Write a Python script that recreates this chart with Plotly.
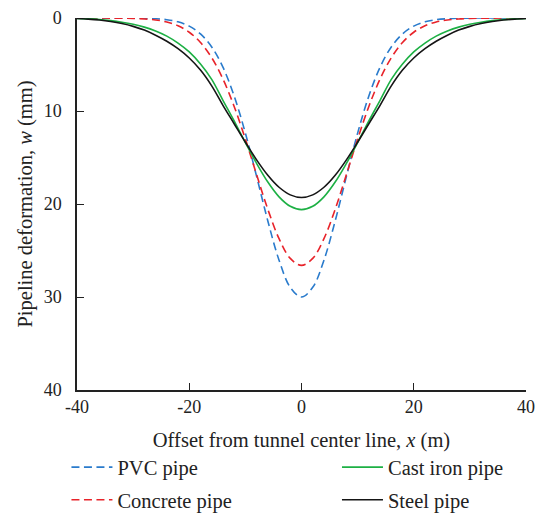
import plotly.graph_objects as go

x_m = [-40, -38, -36, -34, -32, -30, -28, -26, -24, -22, -20, -18, -16, -14, -12, -10, -8, -6, -4, -2,
       0, 2, 4, 6, 8, 10, 12, 14, 16, 18, 20, 22, 24, 26, 28, 30, 32, 34, 36, 38, 40]

pvc = [0.0, 0.0, 0.0, 0.0, 0.0, 0.01, 0.03, 0.08, 0.18, 0.41, 0.87, 1.71, 3.11, 5.29, 8.39, 12.38, 17.03, 21.82, 26.04, 28.96,
       30.0, 28.96, 26.04, 21.82, 17.03, 12.38, 8.39, 5.29, 3.11, 1.71, 0.87, 0.41, 0.18, 0.08, 0.03, 0.01, 0.0, 0.0, 0.0, 0.0, 0.0]
concrete = [0.0, 0.0, 0.0, 0.01, 0.02, 0.04, 0.10, 0.21, 0.43, 0.84, 1.53, 2.63, 4.27, 6.56, 9.51, 13.02, 16.84, 20.57, 23.73, 25.85,
            26.6, 25.85, 23.73, 20.57, 16.84, 13.02, 9.51, 6.56, 4.27, 2.63, 1.53, 0.84, 0.43, 0.21, 0.10, 0.04, 0.02, 0.01, 0.0, 0.0, 0.0]
cast_iron = [0.04, 0.09, 0.16, 0.28, 0.45, 0.68, 0.98, 1.40, 1.95, 2.70, 3.65, 4.95, 6.60, 8.85, 11.07, 13.39, 15.63, 17.64, 19.23, 20.25,
             20.6, 20.25, 19.23, 17.64, 15.63, 13.39, 11.07, 8.85, 6.60, 4.95, 3.65, 2.70, 1.95, 1.40, 0.98, 0.68, 0.45, 0.28, 0.16, 0.09, 0.04]
steel = [0.06, 0.12, 0.22, 0.38, 0.60, 0.90, 1.30, 1.85, 2.50, 3.30, 4.30, 5.60, 7.30, 9.39, 11.37, 13.36, 15.25, 16.91, 18.20, 19.02,
         19.3, 19.02, 18.20, 16.91, 15.25, 13.36, 11.37, 9.39, 7.30, 5.60, 4.30, 3.30, 2.50, 1.85, 1.30, 0.90, 0.60, 0.38, 0.22, 0.12, 0.06]

x_ticks = [-40, -20, 0, 20, 40]
y_ticks = [0, 10, 20, 30, 40]

FONT = "Liberation Serif"
DASH = "8px,4.5px"

series = [
    ("PVC pipe", pvc, "#2a7bcc", DASH, "legend"),
    ("Concrete pipe", concrete, "#e8232a", DASH, "legend"),
    ("Cast iron pipe", cast_iron, "#1db044", "solid", "legend2"),
    ("Steel pipe", steel, "#151515", "solid", "legend2"),
]

fig = go.Figure()
for name, vals, color, dash, leg in series:
    fig.add_trace(go.Scatter(
        x=x_m, y=vals, mode="lines", name=name,
        line=dict(color=color, width=1.6, dash=dash, shape="spline", smoothing=1.0),
        legend=leg, legendgroup=name,
    ))

axis_common = dict(
    showgrid=False, zeroline=False, showline=True, linecolor="#222", linewidth=1.5,
    ticks="inside", ticklen=7, tickwidth=1.3, tickcolor="#222", automargin=False,
    ticklabeloverflow="allow",
    tickfont=dict(family=FONT, size=18, color="#222"),
)

fig.update_layout(
    width=536, height=509,
    margin=dict(l=69, r=18, t=10, b=127, autoexpand=False),
    paper_bgcolor="white", plot_bgcolor="white",
    font=dict(family=FONT, size=20, color="#222"),
    xaxis=dict(range=[-40, 40], tickvals=x_ticks, ticktext=[str(v) for v in x_ticks],
               title=dict(text="Offset from tunnel center line, <i>x</i> (m)", font=dict(family=FONT, size=20.5), standoff=16),
               **axis_common),
    yaxis=dict(range=[40, 0], tickvals=y_ticks, ticktext=[str(v) for v in y_ticks], ticklabelstandoff=10,
               title=dict(text="Pipeline deformation, <i>w</i> (mm)", font=dict(family=FONT, size=20.5), standoff=5),
               **axis_common),
    legend=dict(x=-0.0235, y=-0.154, xanchor="left", yanchor="top", orientation="v",
                font=dict(family=FONT, size=20.5, color="#222"), bgcolor="rgba(0,0,0,0)",
                tracegroupgap=3, itemwidth=41),
    legend2=dict(x=0.579, y=-0.154, xanchor="left", yanchor="top", orientation="v",
                 font=dict(family=FONT, size=20.5, color="#222"), bgcolor="rgba(0,0,0,0)",
                 tracegroupgap=3, itemwidth=41),
    showlegend=True,
)

fig.write_html("out.html")
